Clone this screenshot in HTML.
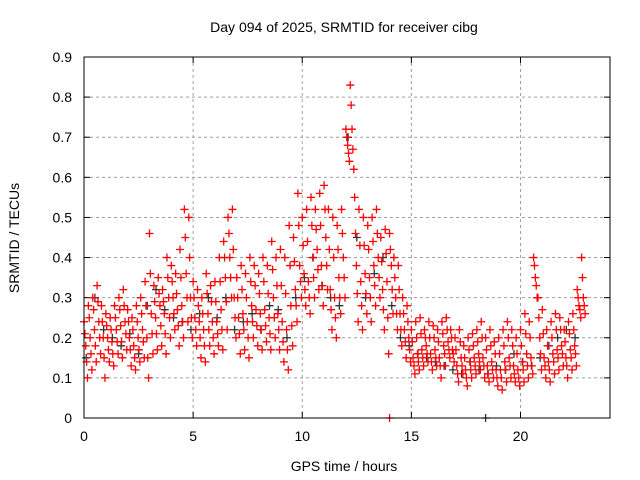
<!DOCTYPE html>
<html><head><meta charset="utf-8"><style>
html,body{margin:0;padding:0;background:#fff;}
svg{display:block;font-family:"Liberation Sans",sans-serif;}
</style></head><body>
<svg id="chart" width="640" height="480" viewBox="0 0 640 480" xmlns="http://www.w3.org/2000/svg">
<rect x="0" y="0" width="640" height="480" fill="#fff"/>
<text x="344" y="32" font-size="14" text-anchor="middle">Day 094 of 2025, SRMTID for receiver cibg</text>
<text x="344" y="471" font-size="14" text-anchor="middle">GPS time / hours</text>
<text transform="translate(19,238) rotate(-90)" font-size="14" text-anchor="middle">SRMTID / TECUs</text>
<g id="grid"></g>
<g id="ticks"></g>
<g id="black"></g>
<g id="red"></g>
<rect x="84" y="57" width="526" height="361" fill="none" stroke="#000" stroke-width="1"/>
</svg>
<script>
const xTicks=[0,5,10,15,20];
const yTicks=[0,0.1,0.2,0.3,0.4,0.5,0.6,0.7,0.8,0.9];
const yTickLabels=["0","0.1","0.2","0.3","0.4","0.5","0.6","0.7","0.8","0.9"];
const redStart=0, redStep=0.2;
const redHi=[.24,.28,.30,.33,.28,.26,.25,.28,.30,.32,.27,.25,.28,.30,.34,.46,.33,.35,.32,.40,.38,.36,.42,.52,.50,.34,.32,.30,.36,.33,.34,.40,.44,.50,.52,.35,.38,.36,.40,.38,.36,.40,.38,.44,.40,.42,.40,.48,.45,.56,.50,.52,.55,.52,.56,.58,.52,.50,.48,.52,.72,.83,.55,.52,.50,.48,.50,.52,.45,.47,.46,.40,.38,.30,.28,.22,.24,.25,.22,.24,.23,.22,.24,.25,.22,.20,.22,.18,.20,.21,.22,.24,.20,.22,.19,.20,.22,.24,.22,.20,.22,.26,.24,.40,.30,.27,.22,.24,.26,.25,.22,.24,.26,.32,.40];
const redQ3=[.21,.25,.27,.29,.24,.23,.22,.25,.27,.28,.24,.22,.24,.26,.28,.36,.29,.31,.29,.35,.34,.31,.35,.45,.40,.30,.28,.26,.31,.29,.29,.34,.40,.46,.42,.30,.32,.30,.34,.33,.31,.34,.31,.37,.33,.33,.31,.38,.39,.48,.43,.44,.48,.47,.48,.52,.42,.40,.42,.46,.70,.78,.46,.43,.43,.42,.44,.46,.39,.41,.42,.35,.32,.26,.24,.19,.20,.21,.20,.20,.20,.19,.21,.22,.20,.17,.19,.15,.17,.18,.19,.20,.17,.18,.16,.16,.18,.20,.18,.16,.18,.21,.20,.38,.25,.21,.18,.20,.22,.22,.19,.21,.22,.30,.35];
const redMid=[.18,.20,.22,.24,.20,.20,.19,.22,.23,.24,.20,.18,.20,.22,.20,.26,.25,.28,.26,.30,.30,.27,.28,.36,.30,.25,.24,.22,.26,.24,.24,.27,.35,.40,.30,.25,.26,.24,.28,.27,.26,.27,.25,.30,.26,.24,.22,.28,.32,.38,.36,.34,.40,.42,.38,.45,.32,.30,.35,.40,.68,.72,.38,.34,.36,.35,.38,.40,.32,.34,.38,.30,.26,.22,.20,.15,.16,.17,.18,.16,.17,.15,.18,.19,.17,.13,.15,.12,.14,.15,.16,.15,.13,.14,.12,.12,.14,.15,.13,.12,.14,.16,.15,.35,.20,.15,.14,.16,.17,.18,.15,.17,.18,.28,.30];
const redQ1=[.14,.16,.18,.20,.15,.17,.16,.19,.19,.21,.17,.15,.17,.19,.15,.21,.21,.23,.21,.25,.26,.23,.24,.30,.25,.22,.20,.18,.22,.20,.21,.22,.29,.35,.25,.21,.22,.20,.24,.23,.22,.23,.21,.25,.22,.19,.17,.23,.28,.34,.32,.30,.35,.37,.33,.38,.27,.25,.30,.35,.66,.67,.31,.28,.31,.30,.33,.35,.27,.25,.32,.26,.22,.19,.17,.13,.14,.15,.16,.14,.15,.13,.16,.17,.16,.11,.13,.10,.12,.13,.14,.13,.11,.12,.10,.10,.12,.13,.11,.10,.12,.13,.13,.33,.16,.13,.12,.14,.15,.16,.13,.15,.16,.27,.28];
const redLo=[.10,.12,.14,.16,.10,.14,.13,.16,.15,.17,.13,.12,.14,.15,.10,.16,.17,.18,.16,.20,.22,.18,.20,.24,.20,.18,.15,.14,.18,.16,.18,.17,.22,.30,.20,.16,.17,.15,.20,.18,.17,.19,.17,.20,.17,.14,.12,.18,.24,.30,.28,.26,.30,.32,.28,.32,.22,.20,.26,.30,.64,.62,.24,.22,.26,.24,.28,.30,.22,.16,.26,.22,.18,.15,.14,.11,.12,.13,.14,.12,.13,.10,.13,.15,.14,.09,.11,.08,.10,.11,.12,.10,.09,.10,.08,.07,.09,.10,.09,.08,.09,.10,.11,.30,.12,.10,.09,.11,.12,.13,.10,.12,.13,.25,.26];
const redExtraT=[14.0];
const redExtraV=[0.0];
const blackStart=0.1, blackStep=0.4;
const blackVals=[.15,.30,.22,.20,.18,.21,.16,.28,.32,.27,.25,.24,.22,.26,.30,.25,.30,.22,.24,.26,.22,.28,.27,.20,.30,.35,.40,.33,.30,.28,.70,.45,.30,.36,.40,.28,.20,.18,.16,.15,.14,.13,.12,.11,.14,.12,.11,.13,.12,.16,.14,.13,.15,.18,.20,.22,.20];
const blackExtraT=[18.4];
const blackExtraV=[0.0];
const X0=84,X1=610,XMAX=24.1,Y0=418,Y1=57,YMAX=0.9;
const NS="http://www.w3.org/2000/svg";
function xs(t){return X0+(X1-X0)*t/XMAX;}
function ys(v){return Y0-(Y0-Y1)*v/YMAX;}
function mk(tag,attrs,parent){const e=document.createElementNS(NS,tag);for(const k in attrs)e.setAttribute(k,attrs[k]);parent.appendChild(e);return e;}
const grid=document.getElementById('grid'),ticks=document.getElementById('ticks');
xTicks.forEach(t=>{const x=xs(t);
 if(t>0){const g=mk('line',{x1:x,x2:x,y1:Y1,y2:Y0,stroke:'#a0a0a0','stroke-dasharray':'3,3'},grid);
 
 }
 mk('line',{x1:x,x2:x,y1:Y0,y2:Y0-6,stroke:'#000'},ticks);
 mk('line',{x1:x,x2:x,y1:Y1,y2:Y1+6,stroke:'#000'},ticks);
 const l=mk('text',{x:x,y:Y0+23,'font-size':'14','text-anchor':'middle'},ticks);l.textContent=String(t);
 
 
});
yTicks.forEach((v,i)=>{const y=ys(v);
 if(v>0&&v<0.9){const g=mk('line',{x1:X0,x2:X1,y1:y,y2:y,stroke:'#a0a0a0','stroke-dasharray':'3,3'},grid);
 
 }
 mk('line',{x1:X0,x2:X0+6,y1:y,y2:y,stroke:'#000'},ticks);
 mk('line',{x1:X1,x2:X1-6,y1:y,y2:y,stroke:'#000'},ticks);
 const l=mk('text',{x:X0-12,y:y+5,'font-size':'14','text-anchor':'end'},ticks);l.textContent=yTickLabels[i];
 
 
});
function plus(g,t,v,col){const x=xs(t),y=ys(v);
 const p=mk('path',{d:`M${x-4},${y}H${x+4}M${x},${y-4}V${y+4}`,stroke:col,'stroke-width':'1.3',fill:'none'},g);
 
 }
const bg=document.getElementById('black'),rg=document.getElementById('red');
blackVals.forEach((v,i)=>plus(bg,blackStart+i*blackStep,v,'#333'));
blackExtraT.forEach((t,i)=>plus(bg,t,blackExtraV[i],'#333'));
[redHi,redQ3,redMid,redQ1,redLo].forEach((arr,k)=>arr.forEach((v,i)=>plus(rg,redStart+i*redStep+k*0.04,v,'#ff0000')));
redExtraT.forEach((t,i)=>plus(rg,t,redExtraV[i],'#ff0000'));
</script>
</body></html>
